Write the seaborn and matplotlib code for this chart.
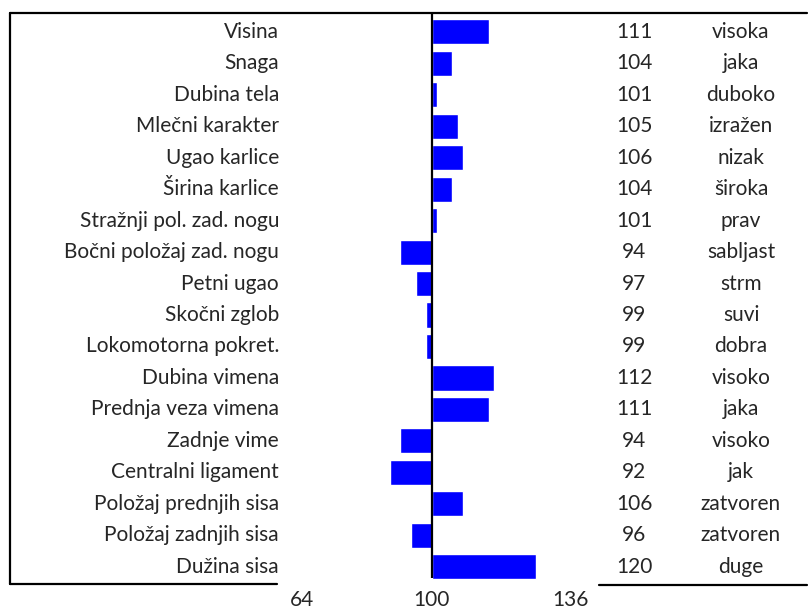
import numpy as np
import pandas as pd
import matplotlib
matplotlib.use("Agg")
import matplotlib.pyplot as plt
import seaborn as sns
from matplotlib.transforms import blended_transform_factory
from matplotlib.lines import Line2D

# DATA:
traits = ["Visina", "Snaga", "Dubina tela", "Mlečni karakter", "Ugao karlice",
          "Širina karlice", "Stražnji pol. zad. nogu", "Bočni položaj zad. nogu",
          "Petni ugao", "Skočni zglob", "Lokomotorna pokret.", "Dubina vimena",
          "Prednja veza vimena", "Zadnje vime", "Centralni ligament",
          "Položaj prednjih sisa", "Položaj zadnjih sisa", "Dužina sisa"]
values = [111, 104, 101, 105, 106, 104, 101, 94, 97, 99, 99, 112, 111, 94, 92, 106, 96, 120]
descr = ["visoka", "jaka", "duboko", "izražen", "nizak", "široka", "prav", "sabljast",
         "strm", "suvi", "dobra", "visoko", "jaka", "visoko", "jak", "zatvoren",
         "zatvoren", "duge"]
scale_labels = ["64", "100", "136"]

df = pd.DataFrame({"trait": traits, "value": values, "descr": descr})
df["dev"] = df["value"] - 100

sns.set_style("white")
plt.rcParams["font.family"] = ["Lato", "DejaVu Sans"]
fs = 15

W, H = 808, 610
fig = plt.figure(figsize=(W / 100, H / 100), dpi=100)

def fx(px):
    return px / W

def fy(py):
    return 1 - py / H

# bar area
ax = fig.add_axes([fx(280), fy(584), fx(600) - fx(280), (584 - 13) / H])
sns.barplot(data=df, x="dev", y="trait", orient="h", color="#0000ff",
            saturation=1, width=0.8, ax=ax)
ax.set_xlim(-(431.5 - 280) / 5.2, (600 - 431.5) / 5.2)
ax.set_ylim(17.55, -0.6)
ax.axis("off")
ax.plot([0, 0], [-0.6, 17.35], color="black", lw=1.6, solid_capstyle="butt")

tr = blended_transform_factory(fig.transFigure, ax.transData)
for i, row in df.iterrows():
    ax.text(fx(279), i, row["trait"], transform=tr, ha="right", va="center", fontsize=fs)
    ax.text(fx(634), i, str(row["value"]), transform=tr, ha="center", va="center", fontsize=fs)
    ax.text(fx(741), i, row["descr"], transform=tr, ha="center", va="center", fontsize=fs)

# scale labels under the axis
for lab, px in zip(scale_labels, [302, 431, 570]):
    fig.text(fx(px), fy(600), lab, ha="center", va="center", fontsize=fs)

# frame lines
lw = 1.6
fig.add_artist(Line2D([fx(10), fx(807)], [fy(13), fy(13)], color="black", lw=lw))
fig.add_artist(Line2D([fx(10), fx(10)], [fy(13), fy(584)], color="black", lw=lw))
fig.add_artist(Line2D([fx(10), fx(277)], [fy(584), fy(584)], color="black", lw=lw))
fig.add_artist(Line2D([fx(599), fx(807)], [fy(585), fy(585)], color="black", lw=lw))

fig.savefig("out.png", dpi=100)
